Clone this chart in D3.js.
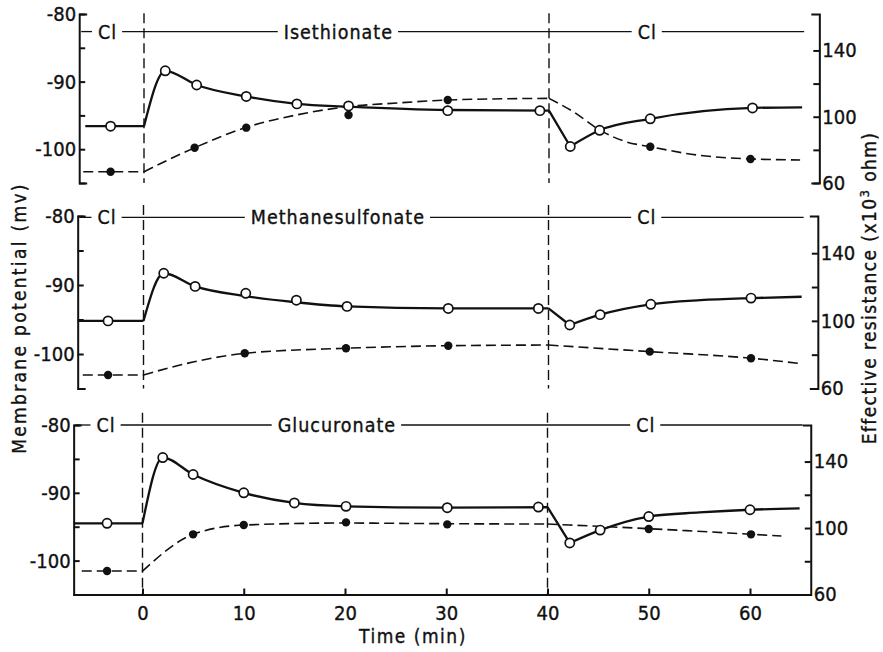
<!DOCTYPE html>
<html>
<head>
<meta charset="utf-8">
<script src="https://cdn.jsdelivr.net/npm/d3@7"></script>
<style>
  html, body { margin: 0; padding: 0; background: #fff; }
  svg { display: block; font-family: "DejaVu Sans Condensed", "DejaVu Sans", sans-serif; }
  svg text { stroke: #111; stroke-width: 0.35px; }
</style>
</head>
<body>
<svg id="chart" width="883" height="652"></svg>
<script>
// Membrane potential (open circles, solid line) and effective resistance
// (filled circles, dashed line) while Cl is replaced by an impermeant anion
// between t = 0 and t = 40 min, then restored.

const solutions = ["Isethionate", "Methanesulfonate", "Glucuronate"];
const washLabel = "Cl";
const switchTimes = [0, 40];

const timeTicks = [0, 10, 20, 30, 40, 50, 60];
const potentialTicks = [-80, -85, -90, -95, -100, -105];
const potentialTickLabels = [-80, -90, -100];
const resistanceTicks = [60, 80, 100, 120, 140];
const resistanceTickLabels = [60, 100, 140];

// ---- Isethionate ----
const isePotentialTime  = [-3.3, 2.1, 5.2, 10.1, 15.1, 20.2, 30, 39.1, 42.1, 45, 50, 60.1];
const isePotential      = [-96.6, -88.4, -90.5, -92.2, -93.3, -93.6, -94.3, -94.3, -99.6, -97.2, -95.5, -93.9];
const iseResistanceTime = [-3.3, 5.0, 10.1, 20.2, 30, 50, 59.9];
const iseResistance     = [66.8, 81.3, 93.4, 101, 110.1, 81.9, 74.5];
const isePotentialCurve = [[-5.8, -96.6], [0, -96.6], [2.1, -88.4], [5.2, -90.5], [10.1, -92.2], [15.1, -93.3],
  [20.2, -93.7], [30, -94.2], [40, -94.3], [42.1, -99.6], [45, -97.2], [50, -95.5], [60.1, -93.9], [65, -93.8]];
const iseResistanceCurve = [[-6, 66.8], [0, 66.8], [5, 81.3], [10, 93.4], [15, 101], [20, 106], [25, 108.3],
  [30, 110.1], [40, 111.1], [42.4, 103], [45, 92], [47.6, 84.9], [50, 81.9], [54.6, 76.9], [60, 74.5], [64.8, 73.9]];

// ---- Methanesulfonate ----
const msPotentialTime  = [-3.5, 2.0, 5.1, 10.1, 15.1, 20.1, 30.1, 39, 42.1, 45.1, 50.1, 60];
const msPotential      = [-95.2, -88.3, -90.2, -91.2, -92.2, -93.1, -93.4, -93.4, -95.8, -94.3, -92.8, -91.9];
const msResistanceTime = [-3.5, 10, 20, 30.1, 50, 60];
const msResistance     = [68, 80.8, 83.8, 85.3, 81.8, 77.9];
const msPotentialCurve = [[-6.5, -95.2], [0, -95.2], [2.0, -88.3], [5.1, -90.2], [10, -91.6], [15, -92.5],
  [20.1, -93.1], [30, -93.4], [40, -93.4], [42.1, -95.8], [45.1, -94.3], [50.1, -92.8], [55, -92.2], [60, -91.9], [65, -91.7]];
const msResistanceCurve = [[-6, 68], [0, 68], [5, 75.8], [10, 80.8], [20, 83.8], [30, 85.3], [40, 85.7],
  [50, 81.8], [60, 77.9], [64.7, 74.9]];

// ---- Glucuronate ----
const gluPotentialTime  = [-3.5, 2.0, 5.0, 10.0, 15.0, 20.1, 30.1, 39.1, 42.2, 45.2, 50, 60];
const gluPotential      = [-94.5, -84.8, -87.3, -90.0, -91.5, -92.0, -92.2, -92.1, -97.4, -95.5, -93.5, -92.5];
const gluResistanceTime = [-3.5, 5, 10, 20.1, 30.1, 50, 60.1];
const gluResistance     = [74.1, 96.2, 101.8, 103.4, 102.2, 99.4, 96.2];
const gluPotentialCurve = [[-6.8, -94.5], [0, -94.5], [2.0, -84.8], [5, -87.3], [10, -90], [15, -91.5], [20, -92],
  [30, -92.2], [40, -92.1], [42.2, -97.4], [45.2, -95.5], [50, -93.5], [55, -92.9], [60, -92.5], [64.9, -92.3]];
const gluResistanceCurve = [[-6, 74.1], [0, 74.1], [5, 96.2], [10, 101.8], [20, 103], [30, 102.6], [40, 102.4],
  [50, 99.6], [60, 96.3], [63.1, 95.2]];

const runs = [
  { name: solutions[0], pT: isePotentialTime, p: isePotential, rT: iseResistanceTime, r: iseResistance,
    pCurve: isePotentialCurve, rCurve: iseResistanceCurve },
  { name: solutions[1], pT: msPotentialTime, p: msPotential, rT: msResistanceTime, r: msResistance,
    pCurve: msPotentialCurve, rCurve: msResistanceCurve },
  { name: solutions[2], pT: gluPotentialTime, p: gluPotential, rT: gluResistanceTime, r: gluResistance,
    pCurve: gluPotentialCurve, rCurve: gluResistanceCurve }
];

// panel placement (pixels / axis units)
const layout = [
  { top: 14,  bottom: 183,   dx: 1.5, xLeft: -6.4, xRight: 66.7, bandV: -82.6, dashTop: -79.9 },
  { top: 216, bottom: 388.5, dx: 1.0, xLeft: -6.5, xRight: 66.6, bandV: -80.2, dashTop: -78.4 },
  { top: 425, bottom: 594.5, dx: 0,   xLeft: -6.8, xRight: 66.0, bandV: -80.0, dashTop: -78.2 }
];
const bandPos = { left: -3.6, middle: 19.2, right: 49.7, end: 65.2 };

const svg = d3.select("#chart");
svg.append("rect").attr("width", 883).attr("height", 652).attr("fill", "#fff");

const x = d3.scaleLinear().domain([0, 60]).range([142.5, 750]);
const INK = "#111";

// split knots into pieces so the curve keeps sharp corners at the solution switches
function splitAt(knots, breaks) {
  const segs = [];
  let cur = [];
  knots.forEach((k, i) => {
    cur.push(k);
    if (breaks.includes(k[0]) && i > 0 && i < knots.length - 1) {
      segs.push(cur);
      cur = [k];
    }
  });
  segs.push(cur);
  return segs;
}

runs.forEach((run, i) => {
  const L = layout[i];
  const X = t => x(t) + L.dx;
  const yP = d3.scaleLinear().domain([-105, -80]).range([L.bottom, L.top]);
  const yR = d3.scaleLinear().domain([60, 162]).range([L.bottom, L.top]);
  const g = svg.append("g");
  const axL = X(L.xLeft), axR = X(L.xRight);

  // solution change markers
  switchTimes.forEach(t => {
    g.append("line")
      .attr("x1", X(t)).attr("x2", X(t))
      .attr("y1", yP(L.dashTop)).attr("y2", L.bottom)
      .attr("stroke", INK).attr("stroke-width", 1.4)
      .attr("stroke-dasharray", "10,5");
  });

  // solution band: Cl | anion | Cl
  const by = yP(L.bandV);
  const bandTexts = [
    { t: bandPos.left, s: washLabel },
    { t: bandPos.middle, s: run.name },
    { t: bandPos.right, s: washLabel }
  ];
  const gaps = [];
  bandTexts.forEach(b => {
    const txt = g.append("text")
      .attr("x", X(b.t)).attr("y", by + 7)
      .attr("text-anchor", "middle")
      .attr("font-size", 19.5).attr("letter-spacing", 1)
      .attr("fill", INK).text(b.s);
    const w = txt.node().getComputedTextLength();
    gaps.push([X(b.t) - w / 2 - 6, X(b.t) + w / 2 + 5]);
  });
  let start = axL + 2;
  gaps.forEach(gp => {
    g.append("line").attr("x1", start).attr("x2", gp[0]).attr("y1", by).attr("y2", by)
      .attr("stroke", INK).attr("stroke-width", 1.3);
    start = gp[1];
  });
  g.append("line").attr("x1", start).attr("x2", X(bandPos.end)).attr("y1", by).attr("y2", by)
    .attr("stroke", INK).attr("stroke-width", 1.3);

  // traced curves
  const troughT = run.pCurve.filter(d => d[0] > 40).reduce((a, b) => (b[1] < a[1] ? b : a))[0];
  const lineP = d3.line().x(d => X(d[0])).y(d => yP(d[1])).curve(d3.curveMonotoneX);
  const lineR = d3.line().x(d => X(d[0])).y(d => yR(d[1])).curve(d3.curveMonotoneX);
  const pSegs = splitAt(run.pCurve, [...switchTimes, troughT]);
  const rSegs = splitAt(run.rCurve, switchTimes);
  g.append("path").attr("d", rSegs.map(s => lineR(s)).join(""))
    .attr("fill", "none").attr("stroke", INK).attr("stroke-width", 1.6)
    .attr("stroke-dasharray", "10,5");
  g.append("path").attr("d", pSegs.map(s => lineP(s)).join(""))
    .attr("fill", "none").attr("stroke", INK).attr("stroke-width", 2.3)
    .attr("stroke-linejoin", "round");

  // measured points
  g.selectAll(".res").data(run.rT.map((t, k) => [t, run.r[k]])).join("circle")
    .attr("cx", d => X(d[0])).attr("cy", d => yR(d[1])).attr("r", 4.2).attr("fill", INK);
  g.selectAll(".pot").data(run.pT.map((t, k) => [t, run.p[k]])).join("circle")
    .attr("cx", d => X(d[0])).attr("cy", d => yP(d[1])).attr("r", 4.6)
    .attr("fill", "#fff").attr("stroke", INK).attr("stroke-width", 1.7);

  // left axis: membrane potential
  const left = g.append("g").attr("transform", `translate(${axL},0)`)
    .call(d3.axisLeft(yP).tickValues(potentialTicks)
      .tickFormat(d => potentialTickLabels.includes(d) ? String(d) : "")
      .tickSizeInner(-6).tickSizeOuter(-8).tickPadding(3));
  // right axis: effective resistance
  const right = g.append("g").attr("transform", `translate(${axR},0)`)
    .call(d3.axisRight(yR).tickValues(resistanceTicks)
      .tickFormat(d => resistanceTickLabels.includes(d) ? String(d) : "")
      .tickSizeInner(-6).tickSizeOuter(-8).tickPadding(3));
  [left, right].forEach(a => {
    a.attr("font-family", null).attr("font-size", null);
    a.selectAll("path, line").attr("stroke", INK).attr("stroke-width", 2);
    a.selectAll("text").attr("font-size", 20).attr("fill", INK);
  });

  // time axis under the last panel
  if (i === runs.length - 1) {
    const xs = d3.scaleLinear().domain([L.xLeft, L.xRight]).range([axL, axR]);
    const bottom = g.append("g").attr("transform", `translate(0,${L.bottom})`)
      .call(d3.axisBottom(xs).tickValues(timeTicks).tickFormat(d3.format("d"))
        .tickSizeInner(-6).tickSizeOuter(0).tickPadding(11));
    bottom.attr("font-family", null).attr("font-size", null);
    bottom.selectAll("path, line").attr("stroke", INK).attr("stroke-width", 2);
    bottom.selectAll("text").attr("font-size", 20).attr("fill", INK);
  }
});

// axis titles
svg.append("text")
  .attr("transform", "translate(19,318) rotate(-90)")
  .attr("text-anchor", "middle").attr("dy", "0.35em")
  .attr("font-size", 19).attr("letter-spacing", 2.3).attr("fill", INK)
  .text("Membrane potential (mv)");

const rt = svg.append("text")
  .attr("transform", "translate(869,288) rotate(-90)")
  .attr("text-anchor", "middle").attr("dy", "0.35em")
  .attr("font-size", 19).attr("letter-spacing", 1.4).attr("fill", INK);
rt.append("tspan").text("Effective resistance (x10");
rt.append("tspan").attr("font-size", 13).attr("dy", "-0.55em").text("3");
rt.append("tspan").attr("dy", "0.37em").text(" ohm)");

svg.append("text")
  .attr("x", 413).attr("y", 643)
  .attr("text-anchor", "middle")
  .attr("font-size", 19).attr("letter-spacing", 1.5).attr("fill", INK)
  .text("Time (min)");
</script>
</body>
</html>
